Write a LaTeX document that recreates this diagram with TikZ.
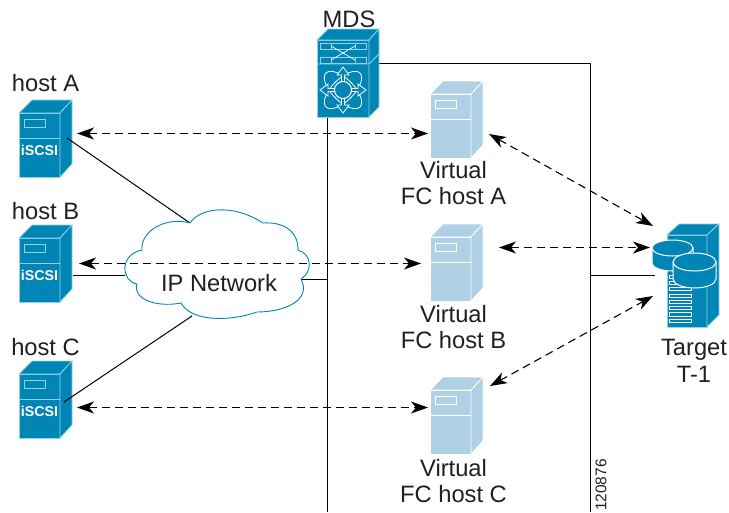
\documentclass[tikz,border=0pt]{standalone}
\usepackage{fontspec}
\setmainfont{Liberation Sans}
\usetikzlibrary{arrows.meta}
\definecolor{ciscob}{HTML}{0085B5}
\definecolor{ciscol}{HTML}{8FD3EA}
\definecolor{virtb}{HTML}{B0D0E6}
\definecolor{txt}{HTML}{231F20}
\tikzset{
  lbl/.style={font=\fontsize{23.7}{26.5}\selectfont,text=txt,align=center,inner sep=0pt},
  wire/.style={line width=1pt,black},
  dasharrow/.style={line width=1.1pt,black,dash pattern=on 8pt off 5pt,
    {Stealth[length=17pt,width=12pt,inset=5pt]}-{Stealth[length=17pt,width=12pt,inset=5pt]}},
  pics/server/.style n args={2}{code={
    \path[fill=#1,draw=#2,line width=.8pt] (0,0)--(41,0)--(41,64)--(0,64)--cycle;
    \path[fill=#1,draw=#2,line width=.8pt] (0,0)--(13,-13)--(53,-13)--(41,0)--cycle;
    \path[fill=#1,draw=#2,line width=.8pt] (41,0)--(53,-13)--(53,51)--(41,64)--cycle;
    \draw[#2,line width=.8pt] (0,25)--(41,25);
    \draw[#2,line width=.9pt] (5,6) rectangle (26,14);
    \coordinate (-c) at (20.5,37);
  }},
}
\begin{document}
\begin{tikzpicture}[x=1pt,y=-1pt]
\useasboundingbox (0,0) rectangle (729,512);

% named anchors for connectors
\coordinate (junctionR) at (590.5,63.5);
\coordinate (mdsR) at (379,63.5);
\coordinate (mdsB) at (327.5,117);
\coordinate (railRend) at (590.5,512);
\coordinate (railLend) at (327.5,512);
\coordinate (railRt) at (590.5,275.5);
\coordinate (tgtL) at (655,275.5);
\coordinate (railLc) at (327.5,279.5);

\coordinate (wA) at (67,138);
\coordinate (wB) at (73,275.5);
\coordinate (wC) at (64,402);
\coordinate (cA) at (190,223);
\coordinate (cB) at (125,275.5);
\coordinate (cC) at (192,316);
\coordinate (cR) at (301,279.5);

% rails
\draw[wire] (mdsB)--(railLend);
\draw[wire] (mdsR)--(junctionR)--(railRend);
\draw[wire] (railRt)--(tgtL);

% devices
\pic (hA) at (19,113) {server={ciscob}{ciscol}};
\pic (hB) at (19,238) {server={ciscob}{ciscol}};
\pic (hC) at (19,374) {server={ciscob}{ciscol}};
\pic (vA) at (430,94) {server={virtb}{white}};
\pic (vB) at (430,237) {server={virtb}{white}};
\pic (vC) at (430,390) {server={virtb}{white}};
\foreach \n in {hA,hB,hC}
  \node[font=\fontsize{14.2}{15}\selectfont\bfseries,text=white,inner sep=0pt] (\n-t) at (\n-c) {iSCSI};

% wires host-cloud
\draw[wire] (wA)--(cA);
\draw[wire] (wB)--(cB);
\draw[wire] (wC)--(cC);
\draw[wire] (cR)--(railLc);

% cloud
\draw[fill=white,draw=ciscob,line width=.9pt] (190,223)
  .. controls (200,208) and (232,203) .. (263,223)
  .. controls (280,222) and (298,228) .. (298,250)
  .. controls (312,254) and (313,272) .. (301,279)
  .. controls (312,300) and (285,312) .. (257,312)
  .. controls (225,323) and (190,320) .. (181,303)
  .. controls (155,308) and (132,298) .. (137,284)
  .. controls (122,282) and (118,255) .. (142,250)
  .. controls (140,232) and (165,216) .. (190,223) -- cycle;
\node[lbl] (ip) at (219,283) {IP Network};

% MDS
\path[fill=ciscob,draw=ciscol,line width=.8pt] (317,40) rectangle (369,117);
\path[fill=ciscob,draw=ciscol,line width=.8pt] (317,40)--(328,29)--(379,29)--(369,40)--cycle;
\path[fill=ciscob,draw=ciscol,line width=.8pt] (369,40)--(379,29)--(379,107)--(369,117)--cycle;
\draw[ciscol,line width=.8pt] (317,64)--(369,64)--(379,54);
\draw[ciscol,line width=.8pt] (320,43) rectangle (366,49) (320,57) rectangle (366,63);
\draw[ciscol,line width=.8pt] (331,43)--(331,49) (355,43)--(355,49) (331,57)--(331,63) (355,57)--(355,63);
\draw[white,line width=.7pt] (331,46)--(355,60) (331,60)--(355,46);
\draw[white,line width=.8pt,rotate around={45:(343,90)}] (343,90) ellipse (24 and 11);
\draw[white,line width=.8pt,rotate around={-45:(343,90)}] (343,90) ellipse (24 and 11);
\foreach \r in {0,90,180,270}
  \path[fill=ciscob,draw=white,line width=.8pt,rotate around={\r:(343,90)}]
    (341.5,82)--(341.5,75)--(337,75)--(343,67)--(349,75)--(344.5,75)--(344.5,82)--cycle;
\path[fill=ciscob,draw=white,line width=1pt] (343,90) circle (8.5);

% Target
\path[fill=ciscob,draw=ciscol,line width=.8pt] (667,235) rectangle (707,327);
\path[fill=ciscob,draw=ciscol,line width=.8pt] (667,235)--(679,224)--(719,224)--(707,235)--cycle;
\path[fill=ciscob,draw=ciscol,line width=.8pt] (707,235)--(719,224)--(719,315)--(707,327)--cycle;
\foreach \y in {275,281.3,287.6,293.9,300.2,306.5,312.8,319.1}
  \draw[fill=ciscob,draw=white,line width=.8pt] (669,\y) rectangle (691,\y+3.2);
\path[fill=ciscob,draw=white,line width=1pt] (652,248)--(652,263) arc[start angle=180,end angle=360,x radius=20.5,y radius=-8]--(693,248)--cycle;
\path[fill=ciscob,draw=white,line width=1pt] (672.5,248) ellipse (20.5 and 8);
\path[fill=ciscob,draw=white,line width=1pt] (673,262)--(673,279) arc[start angle=180,end angle=360,x radius=21.5,y radius=-9]--(716,262)--cycle;
\path[fill=ciscob,draw=white,line width=1pt] (694.5,262) ellipse (21.5 and 9);

% named arrow ends
\coordinate (aA1) at (77,133.5); \coordinate (aA2) at (428,133.5);
\coordinate (aB1) at (79,263.5); \coordinate (aB2) at (421,263.5);
\coordinate (aC1) at (77,407.5); \coordinate (aC2) at (428,407.5);
\coordinate (tA1) at (489,134); \coordinate (tA2) at (653,226);
\coordinate (tB1) at (499,247.5); \coordinate (tB2) at (650,247.5);
\coordinate (tC1) at (490,386); \coordinate (tC2) at (653,296);
\draw[dasharrow] (aA1)--(aA2);
\draw[dasharrow] (aB1)--(aB2);
\draw[dasharrow] (aC1)--(aC2);
\draw[dasharrow] (tA1)--(tA2);
\draw[dasharrow] (tB1)--(tB2);
\draw[dasharrow] (tC1)--(tC2);

% labels
\node[lbl] (lm) at (349,19) {MDS};
\node[lbl] (la) at (45.5,83) {host A};
\node[lbl] (lb) at (45.5,211) {host B};
\node[lbl] (lc) at (45.5,347) {host C};
\node[lbl] (l1) at (453.5,183) {Virtual\\FC host A};
\node[lbl] (l2) at (453.5,327) {Virtual\\FC host B};
\node[lbl] (l3) at (453.5,481) {Virtual\\FC host C};
\node[lbl] (lt) at (694,361) {Target\\T-1};
\node[font=\fontsize{15.5}{16}\selectfont,text=txt,inner sep=0pt,rotate=90] (id) at (601,485) {120876};
\end{tikzpicture}
\end{document}
